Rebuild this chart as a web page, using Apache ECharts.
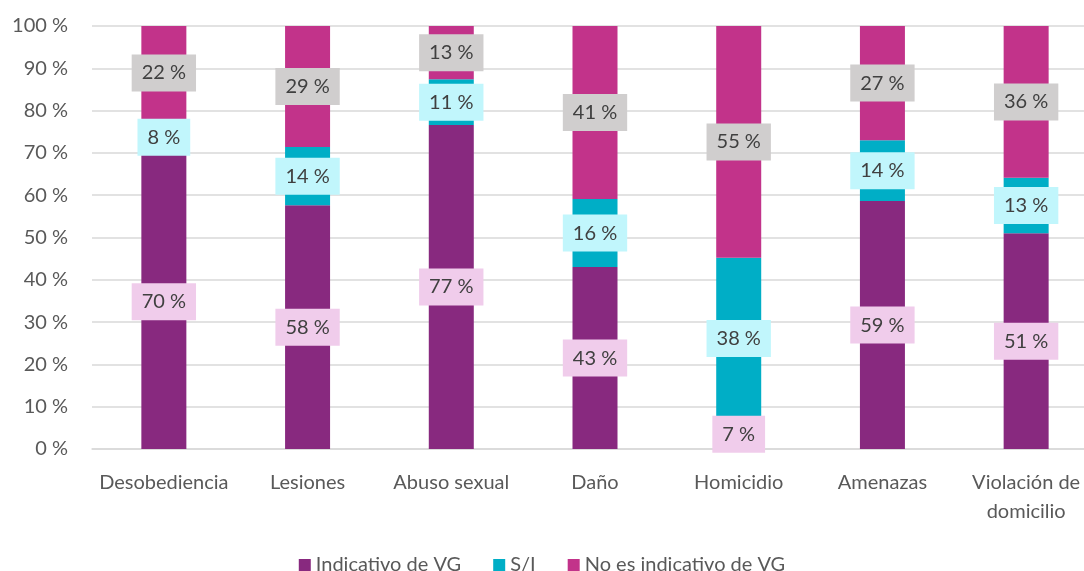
<!DOCTYPE html>
<html>
<head>
<meta charset="utf-8">
<script src="https://cdn.jsdelivr.net/npm/echarts@6/dist/echarts.min.js"></script>
<style>
  html, body { margin: 0; padding: 0; background: #fff; }
  #chart { width: 1084px; height: 571px; }
</style>
</head>
<body>
<div id="chart"></div>
<script>
// datos (porcentaje de cada delito)
var categorias = ['Desobediencia', 'Lesiones', 'Abuso sexual', 'Daño', 'Homicidio', 'Amenazas', 'Violación de\ndomicilio'];
var indicativo = [69.6, 57.6, 76.6, 43.0, 7.0, 58.6, 51.0];
var sinInfo = [8.2, 13.8, 10.8, 16.1, 38.2, 14.4, 13.1];
var noIndicativo = [22.2, 28.6, 12.6, 40.9, 54.8, 27.0, 35.9];
var ticksY = [0, 10, 20, 30, 40, 50, 60, 70, 80, 90, 100];

var fuente = 'Lato';

function etiqueta(fondo) {
  return {
    show: true,
    position: 'inside',
    formatter: function (p) { return Math.round(p.value) + ' %'; },
    color: '#404040',
    fontFamily: fuente,
    fontSize: 20,
    backgroundColor: fondo,
    padding: [9, 10, 8, 10]
  };
}

var chart = echarts.init(document.getElementById('chart'));
chart.setOption({
  animation: false,
  textStyle: { fontFamily: fuente },
  grid: { left: 92, right: -14, top: 26, bottom: 122, outerBoundsMode: 'none' },
  legend: {
    top: 550,
    left: 'center',
    icon: 'rect',
    itemWidth: 12,
    itemHeight: 12,
    itemGap: 32,
    textStyle: { color: '#595959', fontSize: 20, fontFamily: fuente },
    data: ['Indicativo de VG', 'S/I', 'No es indicativo de VG']
  },
  xAxis: {
    type: 'category',
    data: categorias,
    axisLine: { lineStyle: { color: '#D9D9D9', width: 1.5 } },
    axisTick: { show: false },
    axisLabel: { color: '#595959', fontSize: 20, margin: 19, lineHeight: 29, interval: 0 }
  },
  yAxis: {
    type: 'value',
    min: ticksY[0],
    max: ticksY[ticksY.length - 1],
    interval: 10,
    axisLine: { show: false },
    axisTick: { show: false },
    axisLabel: { color: '#595959', fontSize: 20, margin: 24, formatter: '{value} %' },
    splitLine: { lineStyle: { color: '#D9D9D9', width: 1.5 } }
  },
  series: [
    {
      name: 'Indicativo de VG', type: 'bar', stack: 'total', barWidth: 45,
      itemStyle: { color: '#88297F' },
      label: etiqueta('#F0CCEB'),
      data: indicativo
    },
    {
      name: 'S/I', type: 'bar', stack: 'total', barWidth: 45,
      itemStyle: { color: '#00AEC6' },
      label: etiqueta('#C1F6FC'),
      data: sinInfo
    },
    {
      name: 'No es indicativo de VG', type: 'bar', stack: 'total', barWidth: 45,
      itemStyle: { color: '#C2338A' },
      label: etiqueta('#D0CECE'),
      data: noIndicativo
    }
  ]
});
</script>
</body>
</html>
